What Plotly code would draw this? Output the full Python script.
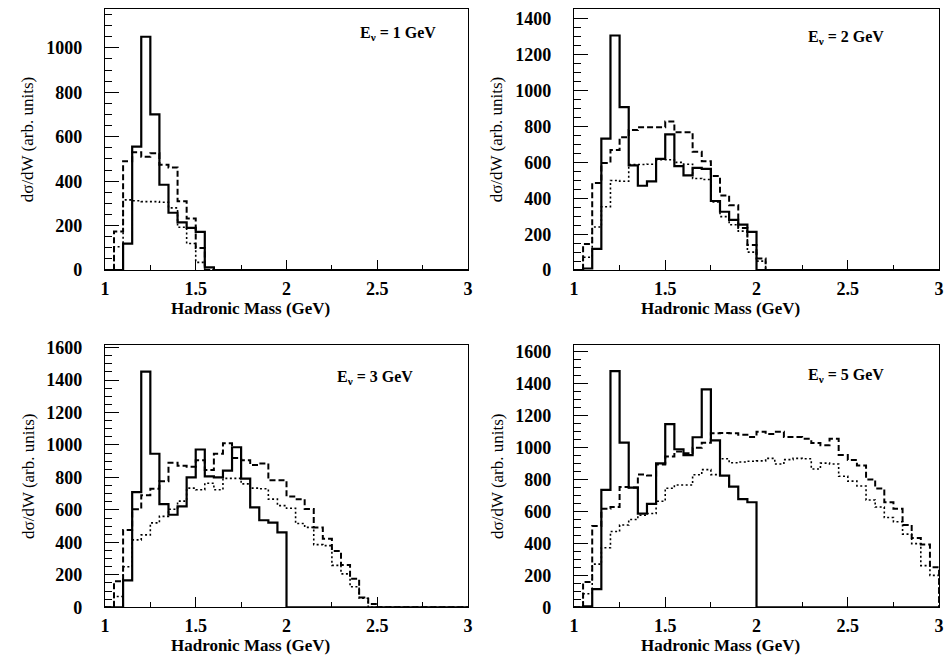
import numpy as np
import plotly.graph_objects as go

# ---------------- data (40 bins of 0.05 GeV from 1.0 to 3.0) ----------------
bin_edges = np.round(np.linspace(1.0, 3.0, 41), 3)

energies = ["1", "2", "3", "5"]

solid_e1 = [0, 0, 119, 556, 1050, 701, 384, 258, 215, 190, 172, 12] + [0] * 28
dashed_e1 = [0, 174, 490, 530, 510, 526, 474, 462, 310, 232, 100, 0] + [0] * 28
dotted_e1 = [0, 105, 316, 312, 308, 308, 305, 280, 193, 120, 35, 0] + [0] * 28

solid_e2 = [0, 9, 118, 732, 1307, 908, 584, 470, 494, 620, 756, 579, 528, 570,
            564, 385, 325, 280, 253, 213] + [0] * 20
dashed_e2 = [0, 145, 485, 597, 669, 740, 780, 796, 796, 796, 828, 768, 768, 660,
             606, 524, 416, 362, 235, 140, 65] + [0] * 19
dotted_e2 = [0, 72, 240, 353, 499, 495, 588, 588, 590, 615, 615, 600, 590, 510,
             505, 380, 298, 253, 217, 100, 50] + [0] * 19

solid_e3 = [0, 0, 166, 710, 1452, 946, 636, 570, 622, 800, 972, 806, 800, 842,
            986, 792, 616, 536, 522, 462] + [0] * 20
dashed_e3 = [0, 160, 476, 604, 690, 730, 776, 890, 872, 866, 906, 846, 946, 1010,
             920, 906, 876, 886, 782, 782, 682, 666, 606, 492, 422, 346, 260, 176,
             60, 20] + [0] * 10
dotted_e3 = [0, 66, 250, 415, 446, 520, 560, 604, 654, 734, 724, 764, 724, 794,
             794, 760, 734, 730, 666, 626, 610, 516, 492, 386, 380, 258, 206, 126,
             56, 0] + [0] * 10

solid_e5 = [0, 6, 114, 735, 1479, 1031, 750, 587, 648, 902, 1147, 990, 953, 1065,
            1365, 1045, 825, 756, 678, 658] + [0] * 20
dashed_e5 = [0, 159, 509, 617, 628, 754, 750, 831, 825, 895, 945, 975, 965, 1000,
             1030, 1090, 1092, 1090, 1080, 1066, 1100, 1085, 1100, 1066, 1066, 1055,
             1029, 1015, 1055, 954, 923, 888, 801, 744, 658, 617, 515, 434, 393, 251]
dotted_e5 = [0, 85, 270, 373, 475, 515, 550, 576, 587, 664, 746, 766, 766, 830,
             862, 831, 930, 905, 910, 915, 917, 933, 897, 925, 933, 930, 866, 903,
             897, 821, 790, 760, 672, 628, 562, 536, 458, 399, 261, 200]

panels = [
    (solid_e1, dashed_e1, dotted_e1),
    (solid_e2, dashed_e2, dotted_e2),
    (solid_e3, dashed_e3, dotted_e3),
    (solid_e5, dashed_e5, dotted_e5),
]
y_tops = [1175, 1455, 1615, 1642]

x_ticks = [1, 1.5, 2, 2.5, 3]
x_ticktext = ["1", "1.5", "2", "2.5", "3"]

x_title = "Hadronic Mass (GeV)"
y_title = "dσ/dW (arb. units)"

# ---------------- layout geometry (pixels) ----------------
W, H = 951, 666
px_left = [(101, 468), (575, 944), (101, 468), (575, 944)]
px_top = [(2, 270), (2, 270), (347, 616), (347, 616)]
label_pos = [(397, 27), (850, 31), (374, 380), (850, 378)]

SERIF = "Liberation Serif"

fig = go.Figure()


def step_xy(vals):
    xs = [bin_edges[0]] + list(bin_edges)
    ys = [0] + list(vals) + [0]
    return xs, ys


styles = [
    dict(color="black", width=2.2, dash="solid"),
    dict(color="black", width=2.0, dash="6px,3px"),
    dict(color="black", width=1.6, dash="2px,2.5px"),
]

for i, series in enumerate(panels):
    xa = "x" if i == 0 else f"x{i+1}"
    ya = "y" if i == 0 else f"y{i+1}"
    for vals, st in zip(series, styles):
        xs, ys = step_xy(vals)
        fig.add_trace(go.Scatter(x=xs, y=ys, mode="lines", line_shape="hv",
                                 line=st, xaxis=xa, yaxis=ya, showlegend=False,
                                 hoverinfo="skip"))

tickfont = dict(family=SERIF, size=18, color="black", weight="bold")

layout = dict(width=W, height=H, autosize=False,
              margin=dict(l=0, r=0, t=0, b=0, pad=0),
              paper_bgcolor="white", plot_bgcolor="white", showlegend=False)

annotations = []
for i in range(4):
    (x0, x1), (y0, y1) = px_left[i], px_top[i]
    xdom = [x0 / W, x1 / W]
    ydom = [1 - y1 / H, 1 - y0 / H]
    sfx = "" if i == 0 else str(i + 1)
    layout["xaxis" + sfx] = dict(
        domain=xdom, range=[1, 3], anchor="y" + sfx,
        showline=True, linecolor="black", linewidth=1, mirror=True,
        ticks="inside", ticklen=10, tickcolor="black", tickwidth=1,
        tickvals=x_ticks, ticktext=x_ticktext,
        minor=dict(dtick=0.25, tick0=1, ticklen=5, ticks="inside", tickcolor="black"),
        showgrid=False, zeroline=False, tickfont=tickfont, ticklabelstandoff=2,
    )
    layout["yaxis" + sfx] = dict(
        domain=ydom, range=[0, y_tops[i]], anchor="x" + sfx,
        showline=True, linecolor="black", linewidth=1, mirror=True,
        ticks="inside", ticklen=14, tickcolor="black", tickwidth=1,
        dtick=200, tick0=0,
        minor=dict(dtick=50, tick0=0, ticklen=7, ticks="inside", tickcolor="black"),
        showgrid=False, zeroline=False, tickfont=tickfont, ticklabelstandoff=18,
    )
    # x title
    annotations.append(dict(
        text=f"<b>{x_title}</b>", xref="paper", yref="paper",
        x=((x0 + x1) / 2 - 36) / W, y=1 - (y1 + 39) / H,
        xanchor="center", yanchor="middle", showarrow=False,
        font=dict(family=SERIF, size=17, color="black")))
    # y title
    annotations.append(dict(
        text=y_title, xref="paper", yref="paper",
        x=(x0 - 78) / W, y=1 - ((y0 + y1) / 2) / H, textangle=-90,
        xanchor="center", yanchor="middle", showarrow=False,
        font=dict(family=SERIF, size=17, color="black")))
    # energy label
    lx, ly = label_pos[i]
    annotations.append(dict(
        text=f"<b>E<sub>ν</sub> = {energies[i]} GeV</b>", xref="paper", yref="paper",
        x=lx / W, y=1 - ly / H,
        xanchor="center", yanchor="middle", showarrow=False,
        font=dict(family=SERIF, size=16, color="black")))

layout["annotations"] = annotations
fig.update_layout(**layout)

fig.write_html("out.html")
